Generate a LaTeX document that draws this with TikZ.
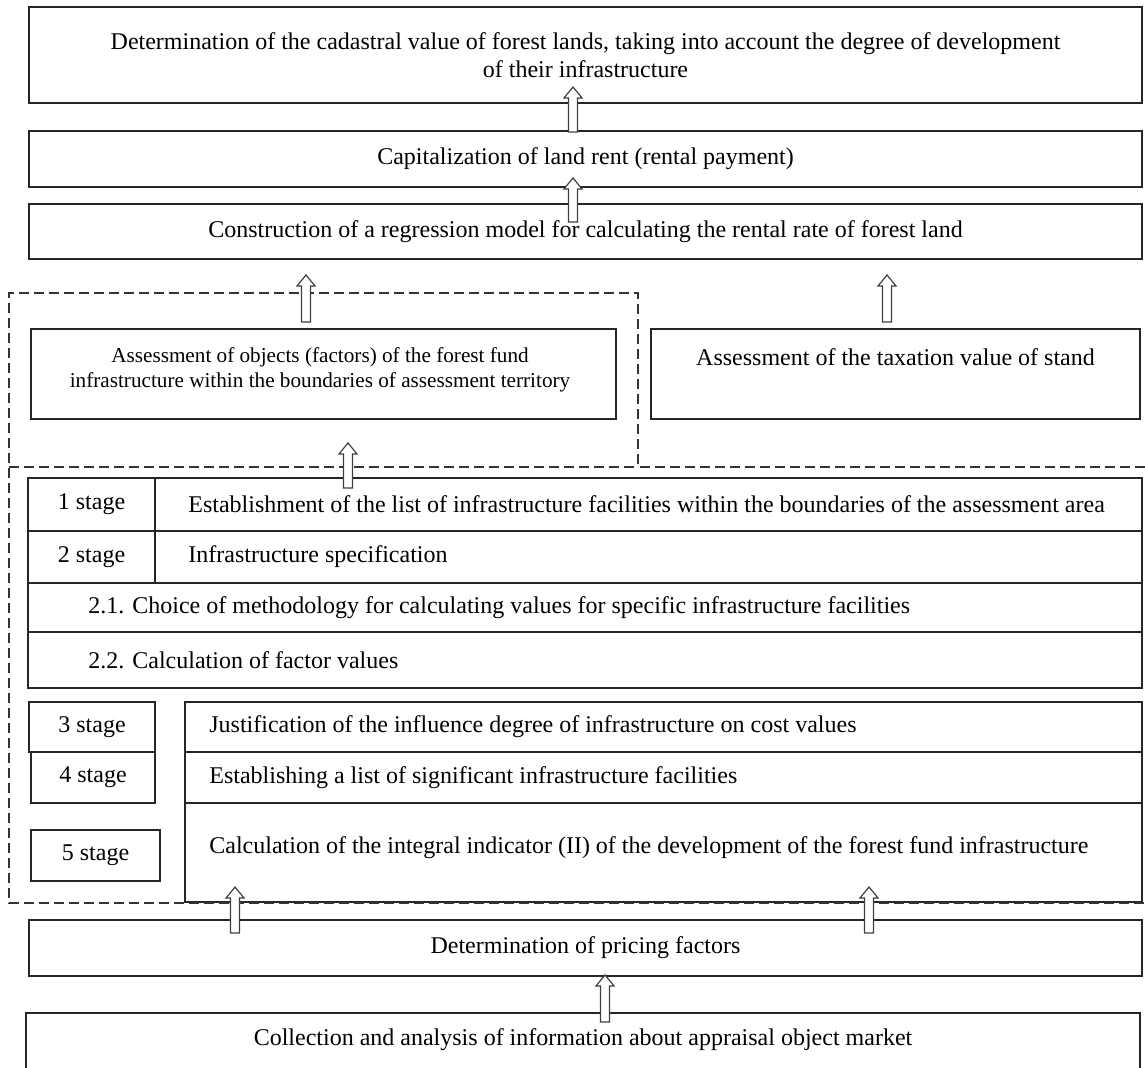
\documentclass[tikz,border=0pt]{standalone}
\usepackage{fontspec}
\setmainfont{Liberation Serif}
\usetikzlibrary{calc}
\usetikzlibrary{positioning}
\tikzset{
  box/.style = {draw=black!85, line width=1pt, inner sep=0pt, align=center, font=\fontsize{12}{14}\selectfont},
  txt/.style = {inner sep=0pt, font=\fontsize{12}{14}\selectfont},
  smalltxt/.style = {inner sep=0pt, align=center, font=\fontsize{10.6}{12.5}\selectfont},
  frame/.style = {dash pattern=on 5pt off 2.5pt, line width=1pt, black!80},
  arrowb/.style = {draw=black!75, fill=white, line width=0.6pt, line join=miter},
}
% hollow block arrow from #1 (tail) up to #2 (tip)
\newcommand{\hollowarrow}[2]{%
  \draw[arrowb] let \p1=(#1), \p2=(#2) in
    (\x1-2.25pt,\y1) -- (\x1-2.25pt,\y2-5.5pt) -- (\x1-4.5pt,\y2-5.5pt)
    -- (\x1,\y2) -- (\x1+4.5pt,\y2-5.5pt) -- (\x1+2.25pt,\y2-5.5pt)
    -- (\x1+2.25pt,\y1) -- cycle;}

\begin{document}
\begin{tikzpicture}[x=0.5pt, y=-0.5pt]
\useasboundingbox (0,0) rectangle (1145,1068);
\clip (0,0) rectangle (1145,1068);

% upper part
\node[box, minimum width=556.5pt, minimum height=48pt] (top) at (585.5,55)
  {Determination of the cadastral value of forest lands, taking into account the degree of development\\of their infrastructure};
\node[box, minimum width=556.5pt, minimum height=28pt] (cap) at (585.5,159) {Capitalization of land rent (rental payment)};
\node[box, minimum width=556.5pt, minimum height=27.5pt] (cons) at (585.5,231.5) {Construction of a regression model for calculating the rental rate of forest land};

\node[box, minimum width=292.5pt, minimum height=45pt] (infra) at (323.5,374) {};
\node[smalltxt] (infratxt) at (320,370) {Assessment of objects (factors) of the forest fund\\infrastructure within the boundaries of assessment territory};
\node[box, minimum width=244.5pt, minimum height=45pt] (tax) at (895.5,374) {};
\node[txt] (taxtxt) at ([yshift=-14.5pt]tax.north) {Assessment of the taxation value of stand};

% stages 1--2
\node[box, minimum width=63.5pt, minimum height=26.5pt] (st1) at (91.5,504.5) {1 stage};
\node[box, minimum width=493.5pt, minimum height=26.5pt] (list) at (648.5,504.5) {};
\node[txt, right=16pt of st1.east] (listtxt) {Establishment of the list of infrastructure facilities within the boundaries of the assessment area};
\node[box, minimum width=63.5pt, minimum height=26pt] (st2) at (91.5,557) {2 stage};
\node[box, minimum width=493.5pt, minimum height=26pt] (spec) at (648.5,557) {};
\node[txt, right=16pt of st2.east] (spectxt) {Infrastructure specification};
\node[box, minimum width=557pt, minimum height=24.5pt] (meth) at (585,607.5) {};
\node[txt, right=30.5pt of meth.west] (methtxt) {2.1. Choice of methodology for calculating values for specific infrastructure facilities};
\node[box, minimum width=557pt, minimum height=28pt] (fact) at (585,660) {};
\node[txt, right=30.5pt of fact.west] (facttxt) {2.2. Calculation of factor values};

% stages 3--5
\node[box, minimum width=63pt, minimum height=25pt] (st3) at (92,727) {3 stage};
\node[box, minimum width=62pt, minimum height=25.5pt] (st4) at (93,777.5) {4 stage};
\node[box, minimum width=64.5pt, minimum height=25.5pt] (st5) at (95.5,855.5) {5 stage};
\node[box, minimum width=478.5pt, minimum height=25pt] (just) at (663.5,727) {};
\node[txt, right=12.5pt of just.west] (justtxt) {Justification of the influence degree of infrastructure on cost values};
\node[box, minimum width=478.5pt, minimum height=25.5pt] (sig) at (663.5,777.5) {};
\node[txt, right=12.5pt of sig.west] (sigtxt) {Establishing a list of significant infrastructure facilities};
\node[box, minimum width=478.5pt, minimum height=49.5pt] (integ) at (663.5,852.5) {};
\node[txt, right=12.5pt of integ.west, yshift=2.5pt] (integtxt) {Calculation of the integral indicator (II) of the development of the forest fund infrastructure};

% lower part
\node[box, minimum width=556.5pt, minimum height=28pt] (price) at (585.5,948) {Determination of pricing factors};
\node[box, minimum width=557pt, minimum height=33.5pt] (coll) at (583,1046.5) {};
\node[txt] (colltxt) at ([yshift=-14pt]coll.north) {Collection and analysis of information about appraisal object market};

% dashed frame
\draw[frame] (1145,467) -- (638,467) -- (638,293) -- (9,293) -- (9,903) -- (1145,903);
\draw[frame] (9,467) -- (638,467);

% arrows
\coordinate (a1s) at (573,132);  \coordinate (a1e) at (573,87);
\coordinate (a2s) at (573,222);  \coordinate (a2e) at (573,178);
\coordinate (a3s) at (306,322);  \coordinate (a3e) at (306,275);
\coordinate (a4s) at (887,322);  \coordinate (a4e) at (887,275);
\coordinate (a5s) at (348,488);  \coordinate (a5e) at (348,443);
\coordinate (a6s) at (235,933);  \coordinate (a6e) at (235,887);
\coordinate (a7s) at (869,933);  \coordinate (a7e) at (869,887);
\coordinate (a8s) at (605,1022); \coordinate (a8e) at (605,975);
\hollowarrow{a1s}{a1e}
\hollowarrow{a2s}{a2e}
\hollowarrow{a3s}{a3e}
\hollowarrow{a4s}{a4e}
\hollowarrow{a5s}{a5e}
\hollowarrow{a6s}{a6e}
\hollowarrow{a7s}{a7e}
\hollowarrow{a8s}{a8e}

\end{tikzpicture}
\end{document}
